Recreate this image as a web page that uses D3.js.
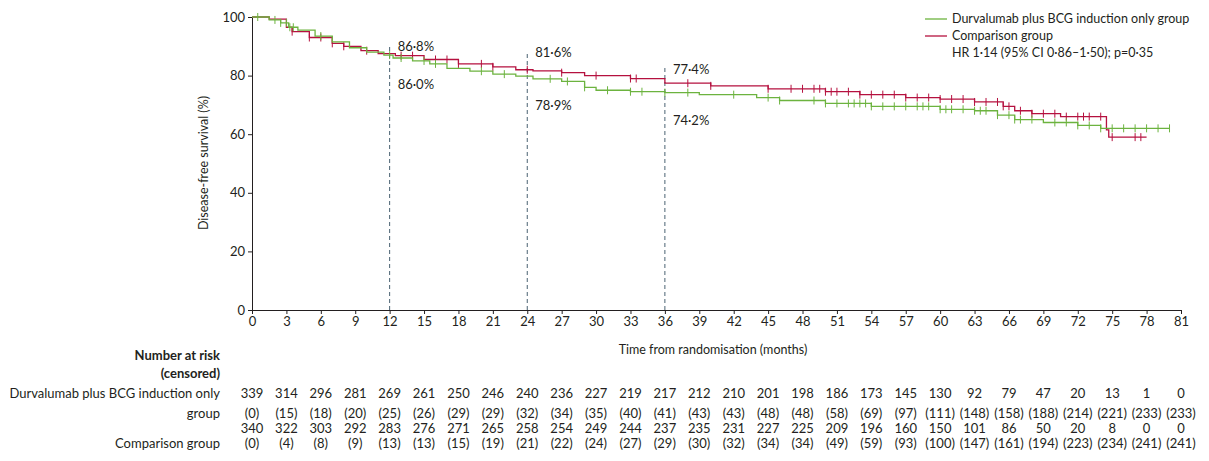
<!DOCTYPE html>
<html><head><meta charset="utf-8">
<script src="https://cdn.jsdelivr.net/npm/d3@7"></script>
<style>
body{margin:0;background:#fff;font-family:Lato,"Noto Sans",sans-serif;}
text{fill:#231f20;}
</style></head><body>
<svg id="c" width="1209" height="461"></svg>
<script>
// step curves: [month, survival %]
const durvaSteps = [[0,100],[1.5,99],[2.5,98],[3.2,96.5],[4,95.5],[5.5,93.5],[7,91.5],[8.5,89.5],[10,88],[11.5,87],[12.3,86],[14,85],[15.5,84],[17,82.5],[19,81.5],[21,80.5],[23,79.8],[24.5,78.9],[27,78],[29,76],[30,75],[33,74.5],[36,74.2],[39,73.5],[44,72.5],[46,71.5],[50,70.5],[54,69.5],[60,68.5],[63,68],[65,66.5],[66.5,65],[69,64],[72,63],[74,62]];
const compSteps = [[0,100],[1.5,99.3],[3,96.5],[3.5,95],[5,93],[7,91],[8,90],[9.5,88.5],[11,87.5],[12.5,86.8],[15,85.5],[18,84],[21,83],[23,82],[24.5,81.6],[27,81],[29,80],[33,79],[36,77.4],[40,76.5],[45,75.5],[50,74.5],[53,73.5],[57,72.5],[60,72],[63,71],[65.5,69.5],[66.5,68],[68,67],[70.5,66],[74.5,61.5],[74.7,59]];
const durvaEnd = 80, compEnd = 78;
const durvaCensor = [0.5,2,2.5,3,3.3,3.6,6,12,13,15,16,20,22,26,27.5,29,31,33,34,36,38,42,45,46,49,50,51,52,52.5,53,53.5,54,55,56,57,58,58.5,59,60,60.5,61,62,63,63.5,64,65,66,66.5,67,68,70,71,72,73,74,75,76,77,78,79,80];
const compCensor = [3.5,5,6,7,8,10,13,14,16,17,18,20,21,24,27,30,33,33.5,38,40,45,47,48,49,49.5,50,50.5,51,52,53,54,55,56,57,58,59,60,61,62,63,64,65,65.5,66,67,68,69,70,71,72,72.5,73,74,75,77,77.5];
const landmarks = [12,24,36];
const durvaLand = ['86·0%','78·9%','74·2%'];
const compLand = ['86·8%','81·6%','77·4%'];
const riskTimes = d3.range(0,82,3);
const durvaRisk = [339,314,296,281,269,261,250,246,240,236,227,219,217,212,210,201,198,186,173,145,130,92,79,47,20,13,1,0];
const durvaCens = [0,15,18,20,25,26,29,29,32,34,35,40,41,43,43,48,48,58,69,97,111,148,158,188,214,221,233,233];
const compRisk = [340,322,303,292,283,276,271,265,258,254,249,244,237,235,231,227,225,209,196,160,150,101,86,50,20,8,0,0];
const compCens = [0,4,8,9,13,13,15,19,21,22,24,27,29,30,32,34,34,49,59,93,100,147,161,194,223,234,241,241];
const xTicks = d3.range(0,82,3);
const yTicks = [0,20,40,60,80,100];

const green = '#6cb33f', red = '#b5113f';
const svg = d3.select('#c');
const x = d3.scaleLinear().domain([0,81]).range([252,1181]);
const y = d3.scaleLinear().domain([0,100]).range([310,17]);

svg.append('g').attr('transform','translate(0,310)')
  .call(d3.axisBottom(x).tickValues(xTicks).tickSize(4).tickSizeOuter(0))
  .call(g=>g.selectAll('text').attr('font-size',13).attr('font-family','Lato'));
svg.append('g').attr('transform','translate(252,0)')
  .call(d3.axisLeft(y).tickValues(yTicks).tickSize(4).tickSizeOuter(0))
  .call(g=>g.selectAll('text').attr('font-size',13).attr('font-family','Lato'));
svg.selectAll('.domain, .tick line').attr('stroke','#231f20');

svg.append('text').attr('transform','translate(208,163) rotate(-90)').attr('text-anchor','middle')
  .attr('font-size',12.5).text('Disease-free survival (%)');
svg.append('text').attr('x',713).attr('y',354).attr('text-anchor','middle')
  .attr('font-size',12.5).text('Time from randomisation (months)');

// landmark lines
svg.selectAll('.lm').data(landmarks).join('line')
  .attr('x1',d=>x(d)).attr('x2',d=>x(d)).attr('y1',y(0)).attr('y2',(d,i)=>y([90,87.5,83][i]))
  .attr('stroke','#4a6272').attr('stroke-dasharray','4,3');

function stepLine(steps, end){
  const pts = steps.concat([[end, steps[steps.length-1][1]]]);
  return d3.line().x(d=>x(d[0])).y(d=>y(d[1])).curve(d3.curveStepAfter)(pts);
}
function survAt(steps,t){ const i = d3.bisector(d=>d[0]).right(steps,t)-1; return steps[Math.max(0,i)][1]; }

[[compSteps,compEnd,compCensor,red],[durvaSteps,durvaEnd,durvaCensor,green]].forEach(([s,e,c,col])=>{
  svg.append('path').attr('d',stepLine(s,e)).attr('fill','none').attr('stroke',col).attr('stroke-width',1.3);
  svg.append('g').selectAll('line').data(c).join('line')
    .attr('x1',d=>x(d)).attr('x2',d=>x(d))
    .attr('y1',d=>y(survAt(s,d))-4).attr('y2',d=>y(survAt(s,d))+4)
    .attr('stroke',col).attr('stroke-width',1);
});

landmarks.forEach((m,i)=>{
  svg.append('text').attr('x',x(m)+8).attr('y',y([88.5,86.5,80.5][i])).attr('font-size',13).text(compLand[i]);
  svg.append('text').attr('x',x(m)+8).attr('y',y([75.5,68.3,63][i])).attr('font-size',13).text(durvaLand[i]);
});

// legend
const lg = [['Durvalumab plus BCG induction only group',green],['Comparison group',red]];
lg.forEach((d,i)=>{
  svg.append('line').attr('x1',925).attr('x2',947).attr('y1',19+i*17).attr('y2',19+i*17).attr('stroke',d[1]).attr('stroke-width',1.3);
  svg.append('text').attr('x',952).attr('y',23+i*17).attr('font-size',12.5).text(d[0]);
});
svg.append('text').attr('x',952).attr('y',57).attr('font-size',12.5).text('HR 1·14 (95% CI 0·86–1·50); p=0·35');

// risk table
const lab = [['Number at risk',360,true],['(censored)',378,true],['Durvalumab plus BCG induction only',398,false],['group',418,false],['Comparison group',448,false]];
lab.forEach(d=>svg.append('text').attr('x',220).attr('y',d[1]).attr('text-anchor','end')
  .attr('font-size',13).attr('font-weight',d[2]?'bold':'normal').text(d[0]));
const rows = [[durvaRisk,398,false],[durvaCens,418,true],[compRisk,433,false],[compCens,448,true]];
rows.forEach(([vals,yy,par])=>{
  svg.append('g').selectAll('text').data(vals).join('text')
    .attr('x',(d,i)=>x(riskTimes[i])).attr('y',yy).attr('text-anchor','middle').attr('font-size',13)
    .text(d=>par?`(${d})`:d);
});
</script></body></html>
